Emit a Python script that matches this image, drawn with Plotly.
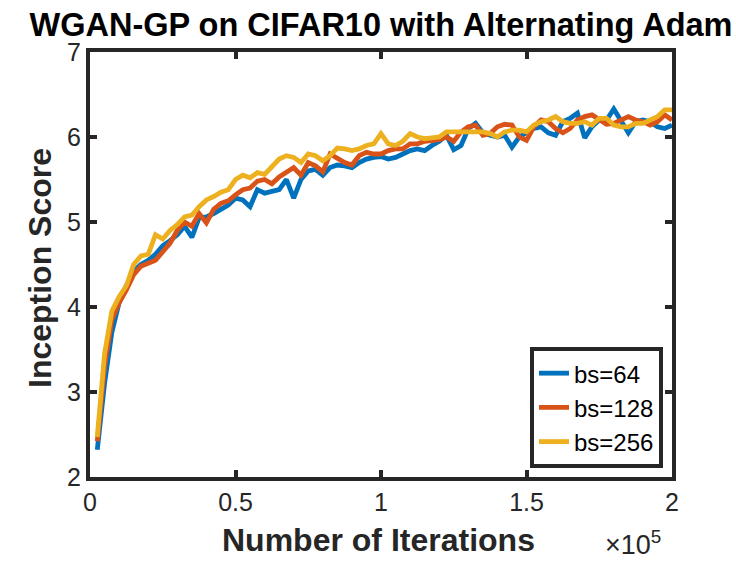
import plotly.graph_objects as go

# Iterations (every 2500 up to 200000)
iterations = [2500 * k for k in range(1, 81)]

bs64 = [2.32, 3.10, 3.70, 4.05, 4.25, 4.42, 4.50, 4.55, 4.62, 4.72,
        4.78, 4.85, 4.95, 4.82, 5.05, 5.06, 5.10, 5.15, 5.20, 5.28,
        5.26, 5.18, 5.38, 5.34, 5.36, 5.38, 5.50, 5.28, 5.50, 5.60,
        5.62, 5.55, 5.64, 5.67, 5.66, 5.64, 5.70, 5.74, 5.76, 5.77,
        5.74, 5.76, 5.80, 5.84, 5.86, 5.84, 5.90, 5.95, 6.02, 5.85,
        5.90, 6.10, 6.16, 6.05, 6.02, 6.00, 6.02, 5.88, 6.00, 6.05,
        6.10, 6.12, 6.05, 6.02, 6.18, 6.22, 6.28, 5.99, 6.12, 6.20,
        6.20, 6.33, 6.18, 6.05, 6.18, 6.20, 6.18, 6.12, 6.10, 6.14]

bs128 = [2.42, 3.30, 3.85, 4.05, 4.20, 4.38, 4.48, 4.52, 4.55, 4.65,
         4.75, 4.90, 5.00, 4.95, 5.10, 4.99, 5.15, 5.22, 5.25, 5.32,
         5.38, 5.40, 5.48, 5.50, 5.45, 5.53, 5.58, 5.64, 5.55, 5.70,
         5.66, 5.59, 5.80, 5.75, 5.70, 5.67, 5.78, 5.82, 5.80, 5.80,
         5.84, 5.86, 5.86, 5.92, 5.92, 5.95, 5.96, 5.97, 6.00, 5.95,
         6.06, 6.12, 6.14, 6.02, 6.04, 6.12, 6.15, 6.14, 6.00, 5.96,
         6.12, 6.20, 6.18, 6.10, 6.05, 6.10, 6.20, 6.24, 6.26, 6.20,
         6.15, 6.16, 6.20, 6.24, 6.20, 6.18, 6.14, 6.18, 6.26, 6.20]

bs256 = [2.47, 3.45, 3.95, 4.12, 4.25, 4.50, 4.60, 4.62, 4.85, 4.80,
         4.90, 4.97, 5.06, 5.08, 5.18, 5.26, 5.30, 5.35, 5.38, 5.50,
         5.55, 5.52, 5.58, 5.56, 5.65, 5.74, 5.78, 5.76, 5.70, 5.80,
         5.78, 5.72, 5.78, 5.87, 5.86, 5.84, 5.86, 5.90, 5.92, 6.04,
         5.92, 5.90, 5.95, 6.04, 6.00, 5.98, 5.99, 6.00, 6.06, 6.06,
         6.05, 6.06, 6.06, 6.06, 6.04, 6.00, 6.06, 6.08, 6.08, 6.06,
         6.14, 6.18, 6.20, 6.24, 6.18, 6.16, 6.16, 6.18, 6.14, 6.22,
         6.22, 6.14, 6.12, 6.12, 6.16, 6.16, 6.20, 6.24, 6.32, 6.32]

series_names = ["bs=64", "bs=128", "bs=256"]
series_colors = ["#0072BD", "#D95319", "#EDB120"]

x_tickvals = [0, 50000, 100000, 150000, 200000]
x_ticktext = ["0", "0.5", "1", "1.5", "2"]
y_tickvals = [2, 3, 4, 5, 6, 7]

FONT = "Liberation Sans, Arial, sans-serif"
DARK = "#262626"

fig = go.Figure()
for name, ys, col in zip(series_names, [bs64, bs128, bs256], series_colors):
    fig.add_trace(go.Scatter(x=iterations, y=ys, mode="lines", name=name,
                             line=dict(color=col, width=4.8)))

axis_common = dict(showline=True, linecolor=DARK, linewidth=4, mirror="allticks",
                   ticks="inside", ticklen=7, tickwidth=4, tickcolor=DARK,
                   showgrid=False, zeroline=False,
                   tickfont=dict(family=FONT, size=25, color=DARK))

fig.update_layout(
    width=736, height=562,
    margin=dict(l=90, r=64, t=52, b=85),
    paper_bgcolor="white", plot_bgcolor="white",
    font=dict(family=FONT, color=DARK),
    title=dict(text="<b>WGAN-GP on CIFAR10 with Alternating Adam</b>",
               x=381 / 736, xanchor="center", y=1 - 25 / 562, yanchor="middle",
               font=dict(family=FONT, size=32.5, color="black")),
    xaxis=dict(range=[0, 200000], tickvals=x_tickvals, ticktext=x_ticktext, **axis_common),
    yaxis=dict(range=[2, 7], tickvals=y_tickvals, **axis_common),
    legend=dict(x=0.9845, y=0.021, xanchor="right", yanchor="bottom",
                bgcolor="white", bordercolor=DARK, borderwidth=4,
                font=dict(family=FONT, size=24, color="black"),
                tracegroupgap=0),
    showlegend=True,
)

fig.add_annotation(text="<b>Number of Iterations</b>", xref="paper", yref="paper",
                   x=(378 - 90) / 582, y=-(540 - 477) / 425, xanchor="center", yanchor="middle",
                   showarrow=False, font=dict(family=FONT, size=32, color=DARK))
fig.add_annotation(text="<b>Inception Score</b>", xref="paper", yref="paper",
                   x=-(90 - 40) / 582, y=(477 - 268) / 425, xanchor="center", yanchor="middle",
                   textangle=-90, showarrow=False, font=dict(family=FONT, size=32, color=DARK))
fig.add_annotation(text="×10<sup>5</sup>", xref="paper", yref="paper",
                   x=(633 - 90) / 582, y=-(543 - 477) / 425, xanchor="center", yanchor="middle",
                   showarrow=False, font=dict(family=FONT, size=27, color=DARK))

fig.write_html("out.html")
